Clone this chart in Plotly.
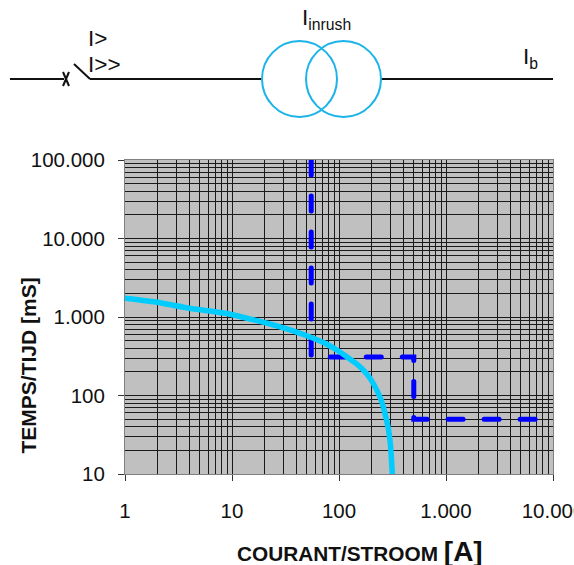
import plotly.graph_objects as go

W, H = 574, 565
L, R, T, B = 125, 553, 160, 474

# Data
curve_x = [1, 2, 4, 8.6, 13.2, 20.3, 31.3, 48.1, 74, 98.6, 118, 141, 169, 195, 225, 251, 269, 289, 304, 315]
curve_y = [1730, 1540, 1290, 1115, 979, 846, 718, 590, 462, 369, 312, 262, 211, 166, 118, 83, 59, 38, 22, 10]
setting_x = [55, 55, 500, 500, 7300]
setting_y = [100000, 310, 310, 50, 50]
x_ticks = [1, 10, 100, 1000, 10000]
x_labels = ["1", "10", "100", "1.000", "10.000"]
y_ticks = [10, 100, 1000, 10000, 100000]
y_labels = ["10", "100", "1.000", "10.000", "100.000"]
FONT = "Liberation Sans"
CYAN = "#00ccff"
BLUE = "#0000ff"
GRID = "#1a1a1a"


def px(x):
    return (x - L) / (R - L)


def py(y):
    return (B - y) / (B - T)


fig = go.Figure()
fig.add_trace(go.Scatter(x=setting_x, y=setting_y, mode="lines", cliponaxis=True,
                         line=dict(color=BLUE, width=5, dash="15px,21px")))
fig.add_trace(go.Scatter(x=curve_x, y=curve_y, mode="lines",
                         line=dict(color=CYAN, width=5.5, shape="spline", smoothing=0.3)))

axis_common = dict(
    type="log",
    showgrid=True, gridcolor=GRID, gridwidth=1,
    showline=True, linecolor="#808080", linewidth=1, mirror=True,
    ticks="outside", ticklen=6, tickcolor="#333333", tickwidth=1,
    tickfont=dict(family=FONT, size=20.5, color="#111111"),
    automargin=False, zeroline=False,
    minor=dict(dtick="D1", showgrid=True, gridcolor=GRID, gridwidth=1, ticks=""),
)
fig.update_xaxes(range=[0, 4], tickvals=x_ticks, ticktext=x_labels, ticklabeloverflow="allow",
                 ticklabelstandoff=12, **axis_common)
fig.update_yaxes(range=[1, 5], tickvals=y_ticks, ticktext=y_labels, ticklabelstandoff=9, **axis_common)

shapes = []
for x0, y0, x1, y1 in [(10, 79, 64, 79), (90, 79, 74, 64), (90, 79, 262, 79), (381, 79, 553, 79),
                       (63, 72, 69, 86), (69, 72, 63, 86)]:
    shapes.append(dict(type="line", xref="paper", yref="paper", x0=px(x0), y0=py(y0), x1=px(x1), y1=py(y1),
                       line=dict(color="#111111", width=2)))
for x0, x1 in [(262, 337), (306, 381)]:
    shapes.append(dict(type="circle", xref="paper", yref="paper", x0=px(x0), x1=px(x1), y0=py(41), y1=py(117),
                       line=dict(color="#1cb4e8", width=2)))

annots = []
for text, x, y, anchor in [("I<sub>inrush</sub>", 326, 19, "center"), ("I>", 86, 38, "left"),
                           ("I>>", 86, 64, "left"), ("I<sub>b</sub>", 530, 58, "center")]:
    annots.append(dict(text=text, xref="paper", yref="paper", x=px(x), y=py(y), showarrow=False,
                       xanchor=anchor, yanchor="middle", font=dict(family=FONT, size=22.5, color="#111111")))
annots.append(dict(text='<b>COURANT/STROOM <span style="font-size:28px">[A]</span></b>', xref="paper", yref="paper",
                   x=px(360), y=py(551), showarrow=False, xanchor="center", yanchor="middle",
                   font=dict(family=FONT, size=20.8, color="#111111")))
annots.append(dict(text='<b>TEMPS/TIJD [mS]</b>', xref="paper", yref="paper",
                   x=px(27.5), y=py(366), showarrow=False, textangle=-90, xanchor="center", yanchor="middle",
                   font=dict(family=FONT, size=21, color="#111111")))

fig.update_layout(
    width=W, height=H, showlegend=False,
    margin=dict(l=L, r=W - R, t=T, b=H - B, pad=0),
    plot_bgcolor="#c0c0c0", paper_bgcolor="#ffffff",
    shapes=shapes, annotations=annots,
)
fig.write_html("out.html", config={"displayModeBar": False},
               post_script="document.body.style.margin='0';document.body.style.overflow='hidden';"
                           "document.querySelectorAll('.js-line').forEach(p=>p.style.strokeLinecap='round');")
